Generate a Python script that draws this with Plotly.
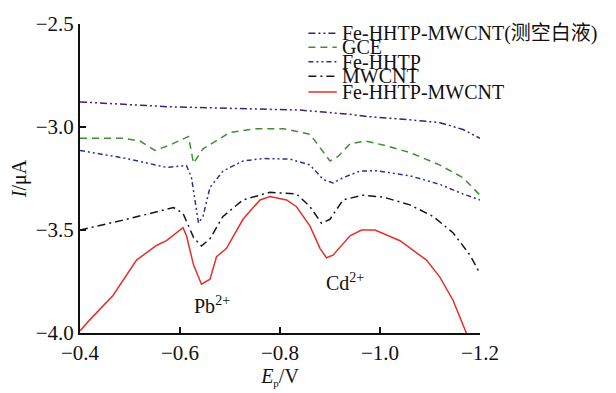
import plotly.graph_objects as go

# Potential (V) and current (µA) for each electrode
blank_x = [-0.40, -0.42, -0.58, -0.754, -0.84, -0.934, -0.974, -1.06, -1.12, -1.166, -1.20]
blank_y = [-2.879, -2.881, -2.902, -2.915, -2.918, -2.937, -2.949, -2.965, -2.979, -3.012, -3.055]

gce_x = [-0.40, -0.486, -0.52, -0.55, -0.58, -0.617, -0.627, -0.646, -0.70, -0.753, -0.806,
         -0.86, -0.90, -0.916, -0.94, -0.97, -1.006, -1.06, -1.12, -1.166, -1.20]
gce_y = [-3.055, -3.055, -3.068, -3.114, -3.087, -3.046, -3.176, -3.106, -3.026, -3.008, -3.008,
         -3.035, -3.165, -3.143, -3.082, -3.068, -3.087, -3.124, -3.185, -3.246, -3.331]

fehhtp_x = [-0.40, -0.493, -0.573, -0.613, -0.623, -0.637, -0.646, -0.66, -0.686, -0.726, -0.766,
            -0.82, -0.86, -0.886, -0.906, -0.926, -0.96, -0.994, -1.06, -1.12, -1.166, -1.20]
fehhtp_y = [-3.114, -3.153, -3.196, -3.187, -3.246, -3.466, -3.434, -3.293, -3.214, -3.165, -3.153,
            -3.156, -3.184, -3.254, -3.272, -3.246, -3.214, -3.212, -3.237, -3.279, -3.325, -3.354]

mwcnt_x = [-0.40, -0.493, -0.587, -0.606, -0.627, -0.643, -0.66, -0.686, -0.726, -0.78, -0.833,
           -0.86, -0.883, -0.90, -0.926, -0.966, -1.006, -1.06, -1.106, -1.146, -1.18, -1.20]
mwcnt_y = [-3.50, -3.448, -3.391, -3.419, -3.536, -3.578, -3.542, -3.434, -3.354, -3.317, -3.325,
           -3.387, -3.467, -3.448, -3.354, -3.331, -3.340, -3.378, -3.434, -3.513, -3.622, -3.711]

composite_x = [-0.40, -0.42, -0.466, -0.513, -0.553, -0.573, -0.606, -0.613, -0.627, -0.643, -0.66,
               -0.673, -0.693, -0.726, -0.76, -0.78, -0.813, -0.833, -0.86, -0.88, -0.893, -0.906,
               -0.94, -0.963, -0.99, -1.04, -1.093, -1.12, -1.146, -1.17, -1.176]
composite_y = [-3.990, -3.935, -3.818, -3.646, -3.575, -3.552, -3.489, -3.528, -3.669, -3.763, -3.739,
               -3.630, -3.589, -3.448, -3.354, -3.337, -3.354, -3.387, -3.481, -3.589, -3.635, -3.622,
               -3.528, -3.500, -3.500, -3.552, -3.646, -3.730, -3.841, -3.988, -4.02]

names = ["Fe-HHTP-MWCNT(测空白液)", "GCE", "Fe-HHTP", "MWCNT", "Fe-HHTP-MWCNT"]
xs = [blank_x, gce_x, fehhtp_x, mwcnt_x, composite_x]
ys = [blank_y, gce_y, fehhtp_y, mwcnt_y, composite_y]
colors = ["#41206f", "#3f8f32", "#2c3290", "#151515", "#e3302b"]
dashes = ["7px,3px,2px,3px,2px,3px", "7px,5px", "5px,3px,2px,3px,2px,3px", "8px,4px,2px,4px", "solid"]

peak_labels = ["Pb<sup>2+</sup>", "Cd<sup>2+</sup>"]
peak_x = [-0.664, -0.93]
peak_y = [-3.864, -3.75]

x_ticks = [-0.4, -0.6, -0.8, -1.0, -1.2]
x_tick_text = ["−0.4", "−0.6", "−0.8", "−1.0", "−1.2"]
y_ticks = [-2.5, -3.0, -3.5, -4.0]
y_tick_text = ["−2.5", "−3.0", "−3.5", "−4.0"]

FONT = "Times New Roman, Liberation Serif, Noto Sans CJK SC, serif"

fig = go.Figure()
for n, x, y, c, d in zip(names, xs, ys, colors, dashes):
    fig.add_trace(go.Scatter(x=x, y=y, name=n, mode="lines",
                             line=dict(color=c, width=1.5, dash=d), showlegend=False))

# Compact legend: sample line + label for each series
legend_y = [0.970, 0.925, 0.878, 0.831, 0.780]
for n, c, d, ly in zip(names, colors, dashes, legend_y):
    fig.add_shape(type="line", xref="paper", yref="paper", x0=0.571, x1=0.642, y0=ly, y1=ly,
                  line=dict(color=c, width=1.5, dash=d))
    fig.add_annotation(text=n, xref="paper", yref="paper", x=0.65, y=ly, xanchor="left",
                       yanchor="middle", showarrow=False, font=dict(size=20, color="#111"))

for t, px, py in zip(peak_labels, peak_x, peak_y):
    fig.add_annotation(text=t, x=px, y=py, showarrow=False, font=dict(size=20, color="#111"))

fig.update_layout(
    width=616, height=393,
    margin=dict(l=80, r=136, t=21, b=52),
    paper_bgcolor="white", plot_bgcolor="white",
    font=dict(family=FONT, size=21, color="#111"),
    xaxis=dict(range=[-0.4, -1.2], tickvals=x_ticks, ticktext=x_tick_text,
               showgrid=False, zeroline=False, showline=True, linecolor="#111", linewidth=2,
               ticks="inside", ticklen=6, tickwidth=2, tickcolor="#111",
               title=dict(text="<i>E</i><sub><span style='font-size:11px'>p</span></sub>/V",
                          standoff=2, font=dict(size=20))),
    yaxis=dict(range=[-4.0, -2.5], tickvals=y_ticks, ticktext=y_tick_text,
               showgrid=False, zeroline=False, showline=True, linecolor="#111", linewidth=2,
               ticks="inside", ticklen=6, tickwidth=2, tickcolor="#111",
               title=dict(text="<i>I</i>/μA", standoff=4, font=dict(size=20))),
)

fig.write_html("out.html")
